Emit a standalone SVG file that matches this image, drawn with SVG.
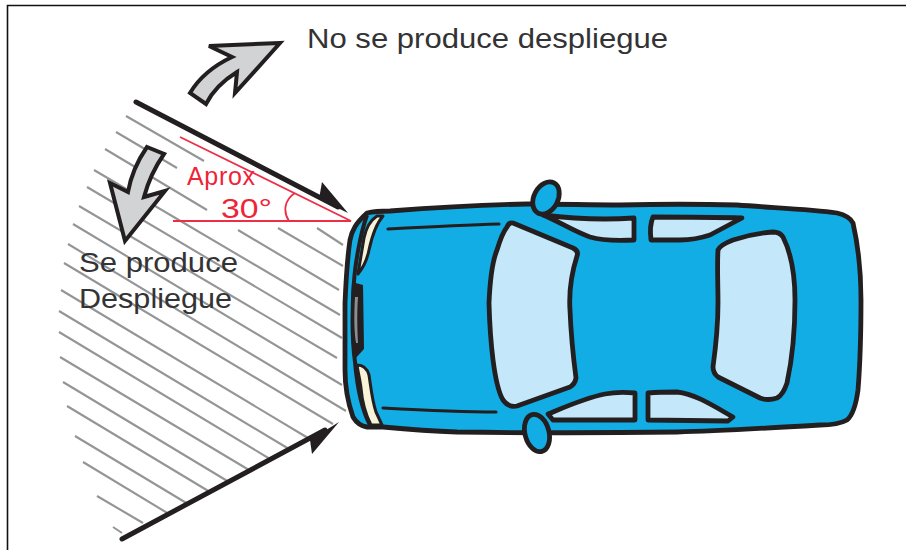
<svg xmlns="http://www.w3.org/2000/svg" width="906" height="550" viewBox="0 0 906 550">
<style>
.hatch{stroke:#949597;stroke-width:2.1;fill:none}
.ink{stroke:#231f20;stroke-linejoin:round;stroke-linecap:round}
.gray{fill:#d1d3d4;stroke:#231f20;stroke-width:4;stroke-linejoin:miter}
.glass{fill:#c4e8f9;stroke:#231f20;stroke-width:4.8;stroke-linejoin:round}
.blue{fill:#12ade4;stroke:#231f20;stroke-width:4.8;stroke-linejoin:round}
.cream{fill:#f6f3d8;stroke:#231f20;stroke-width:3;stroke-linejoin:round}
.red{stroke:#ee2e47;stroke-width:1.8;fill:none}
.lbl{font-family:"Liberation Sans",Arial,sans-serif;font-size:28px;fill:#333334}
.rlbl{font-family:"Liberation Sans",Arial,sans-serif;fill:#ee2438}
</style>
<rect width="906" height="550" fill="#fff"/>
<path d="M906 5.5H7.5V550" fill="none" stroke="#111" stroke-width="1.6"/>
<g id="hatching" class="hatch">
<path d="M126 116L204 161M116 132L177 168M105 149L207 210M94 170L340 315M87 187L342 338M79 206L337 358M73 224L342 385M68 244L346 411M64 263L333 424M61 290L308 438M59 311L289 449M59 332L270 459M60 357L249 470M63 382L229 482M67 406L210 492M75 436L188 504M83 462L169 514M97 496L143 523M113 527L122 533M238 230L339 290M278 228L343 266M317 228L343 245"/>
</g>
<g id="connectors">
<path class="ink" d="M136 102L338 207" fill="none" stroke-width="5"/>
<polygon points="322,182 348,213 319,199" fill="#231f20"/>
<path class="ink" d="M122 539L325 430" fill="none" stroke-width="5"/>
<polygon points="339,422 312,454 310,440" fill="#231f20"/>
</g>
<g id="angle" class="red">
<path d="M180 137L351 221H173M295 193C284 200 283 212 289 221"/>
</g>
<g id="arrow-up"><path class="gray" d="M280 43L209 46L232 57C213 66 199 78 190 93L206 104C213 90 224 80 237 72L235 93Z"/></g>
<g id="arrow-down"><path class="gray" d="M147 147L164 154C155 167 148 182 144 197L165 191L125 241L110 183L128 192C131 175 138 160 147 147Z"/></g>
<g id="car">
<path class="blue" d="M367 213C375 211 382 211 390 211C430 208 480 205 527 204C560 204 590 205 620 205C660 204 700 204 737 205C775 208 810 209 837 213C846 215 851 219 853 223C858 245 861 275 861 300C861 335 860 365 858 390C856 405 853 415 847 420C840 424 830 425 820 425C770 428 720 431 677 432C600 433 530 433 457 432C430 431 405 429 383 427L367 427C360 426 356 422 353 417C347 400 345 385 345 370L345 303C346 280 347 260 350 240C352 230 356 223 367 213Z"/>
<path d="M367 215C360 235 355 265 354 282C352 310 352 340 355 362C357 385 362 410 370 425" fill="none" stroke="#231f20" stroke-width="4"/>
<path class="cream" d="M377 216L383 216C376 224 372 236 369 250C367 260 363 268 358 274C360 262 362 250 364 238C366 228 371 220 377 216Z"/>
<path class="cream" d="M357 365C363 365 367 368 369 375C371 388 372 400 376 412L382 425L371 425C366 415 362 400 361 388C360 380 358 372 357 365Z"/>
<path d="M352 282L363 285L364 349L354 360C351 335 350 310 352 282Z" fill="#231f20"/>
<path d="M355 297C354 315 354 330 356 343L358 343C357 325 357 310 358 297Z" fill="#8c8d8f"/>
<path class="ink" d="M388 229C425 227 462 225 499 224M383 408C420 410 458 412 496 412" fill="none" stroke-width="3.2"/>
<path id="windshield" class="glass" d="M513 223L573 248Q579 251 577 256C571 275 569 295 570 310C571 335 573 355 576 378Q575 384 570 387L517 406Q509 408 503 400C494 385 490 340 489 303C490 280 492 262 497 250C500 240 503 232 507 227Q509 222 513 223Z"/>
<path id="rear-window" class="glass" d="M718 250Q720 245 733 240C745 236 760 233 773 232Q780 232 783 237C792 255 795 280 795 300C795 330 792 360 787 383C784 392 781 396 777 398Q768 401 760 398L718 377Q713 373 713 367C716 345 718 325 718 303C718 285 717 265 718 250Z"/>
<path class="glass" d="M543 215C575 219 605 220 634 218L634 240C615 241 600 240 590 237C575 232 560 222 543 215Z"/>
<path class="glass" d="M653 217C680 217 710 217 742 218L710 235Q695 240 680 240L651 240C650 232 650 224 653 217Z"/>
<path class="glass" d="M548 414C565 407 585 398 605 394C615 392 625 392 635 393L635 420L553 420Z"/>
<path class="glass" d="M648 393C660 392 670 392 677 392C695 394 712 405 733 417L728 421L648 420Z"/>
<ellipse class="blue" cx="546" cy="198" rx="12" ry="17" transform="rotate(28 546 198)"/>
<ellipse class="blue" cx="537" cy="433" rx="12" ry="19" transform="rotate(-15 537 433)"/>
</g>
<text class="lbl" x="307" y="48" textLength="361" lengthAdjust="spacingAndGlyphs">No se produce despliegue</text>
<text class="lbl" x="79" y="272" textLength="159" lengthAdjust="spacingAndGlyphs">Se produce</text>
<text class="lbl" x="79" y="308" textLength="153" lengthAdjust="spacingAndGlyphs">Despliegue</text>
<text class="rlbl" x="187" y="185" font-size="25" textLength="68">Aprox</text>
<text class="rlbl" x="221" y="218" font-size="28" textLength="51" lengthAdjust="spacingAndGlyphs">30°</text>
</svg>
